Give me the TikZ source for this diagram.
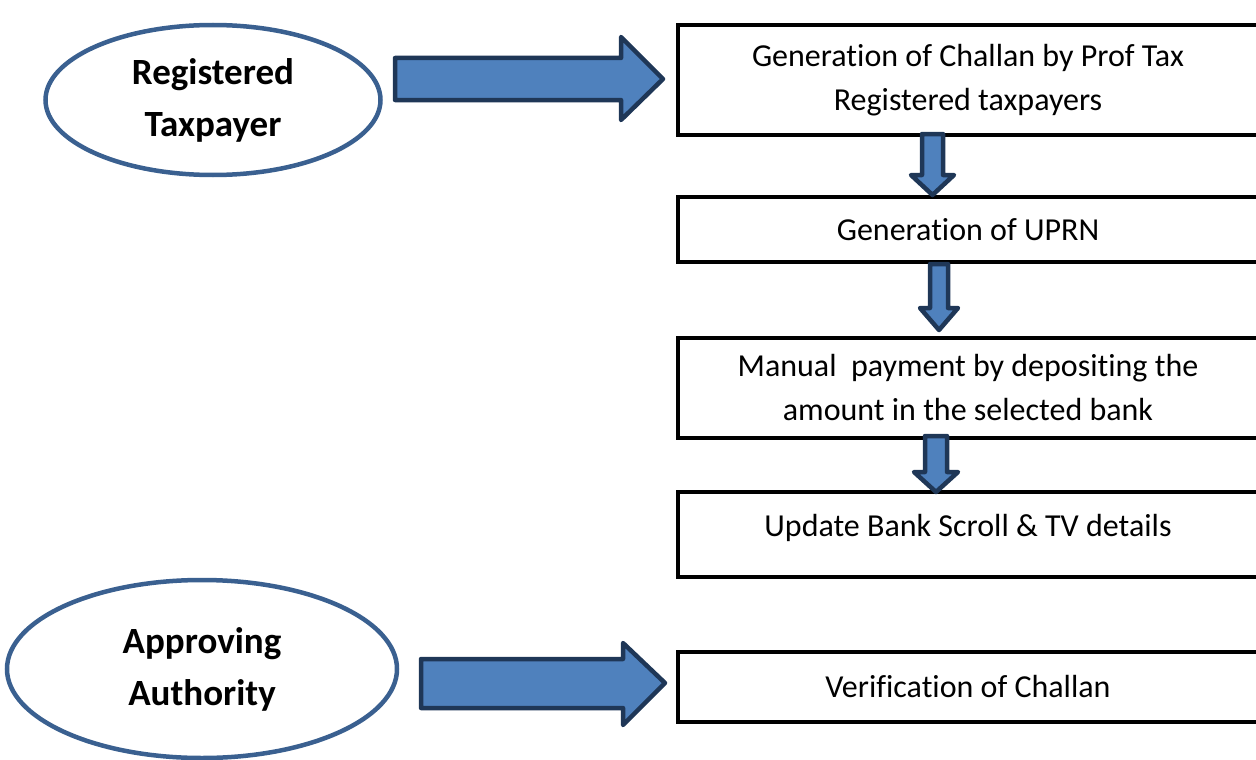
\documentclass[tikz,border=0pt]{standalone}
\usepackage{fontspec}
\setmainfont[Ligatures=NoCommon]{Carlito}
\usetikzlibrary{shapes.geometric}
\definecolor{arrowfill}{HTML}{4F81BD}
\definecolor{arrowline}{HTML}{1F3757}
\definecolor{ellline}{HTML}{3A6090}
\tikzset{
  stepbox/.style={draw=black, line width=4pt, minimum width=580pt, inner sep=0pt, align=center, font=\fontsize{32}{44}\selectfont},
  actor/.style={ellipse, draw=ellline, line width=4.5pt, inner sep=0pt, align=center, font=\bfseries\fontsize{37}{52}\selectfont},
  blockarrow/.style={fill=arrowfill, draw=arrowline, line width=4.5pt, line join=round}
}
\begin{document}
\begin{tikzpicture}[x=1pt,y=-1pt]
\useasboundingbox (0,0) rectangle (1256,760);
% actors
\node[actor, minimum width=335pt, minimum height=150pt] (tp) at (213,100) {\raisebox{-2pt}{Registered}\\\raisebox{-2pt}{Taxpayer}};
\node[actor, minimum width=390pt, minimum height=178pt] (aa) at (202,669) {Approving\\Authority};
% steps
\node[stepbox, minimum height=110pt] (b1) at (968,80) {\raisebox{-4pt}{Generation of Challan by Prof Tax}\\\raisebox{-4pt}{Registered taxpayers}};
\node[stepbox, minimum height=65pt] (b2) at (968,229.5) {Generation of UPRN};
\node[stepbox, minimum height=100pt] (b3) at (968,388) {\raisebox{-2pt}{Manual\ \ payment by depositing the}\\\raisebox{-2pt}{amount in the selected bank}};
\node[stepbox, minimum height=85pt] (b4) at (968,534.5) {\raisebox{18pt}{Update Bank Scroll \& TV details}};
\node[stepbox, minimum height=70pt] (b5) at (968,687) {Verification of Challan};
% horizontal block arrows
\draw[blockarrow] (395,58) -- (621,58) -- (621,37) -- (663,79) -- (621,120) -- (621,100) -- (395,100) -- cycle;
\draw[blockarrow] (421,659) -- (623,659) -- (623,643) -- (665,683) -- (623,725) -- (623,708) -- (421,708) -- cycle;
% vertical block arrows
\draw[blockarrow] (922,134) -- (943,134) -- (943,175) -- (954,175) -- (932.5,195) -- (911,175) -- (922,175) -- cycle;
\draw[blockarrow] (930,264) -- (948,264) -- (948,308) -- (958,308) -- (939,330) -- (920,308) -- (930,308) -- cycle;
\draw[blockarrow] (925,436) -- (947,436) -- (947,472) -- (958,472) -- (936,492) -- (914,472) -- (925,472) -- cycle;
\end{tikzpicture}
\end{document}
